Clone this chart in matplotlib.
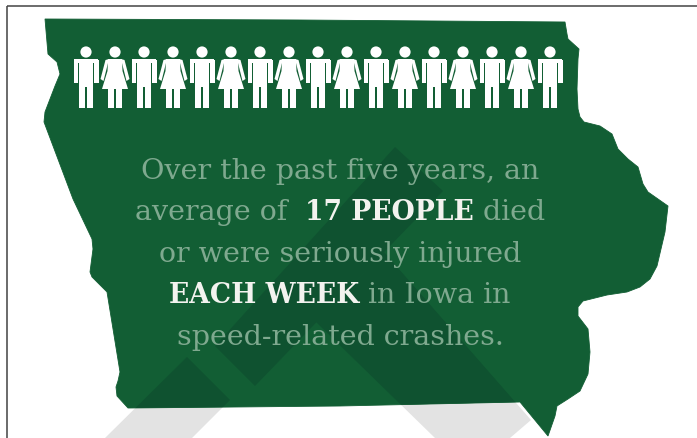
#!/usr/bin/env python3
"""Iowa speed-related crashes graphic"""

import numpy as np
import matplotlib
matplotlib.use("Agg")
import matplotlib.pyplot as plt
from matplotlib.patches import Polygon, Circle, Rectangle

# outline of the state, in picture pixels
state_x = [45, 300, 565, 567, 568, 579, 578, 577, 578, 580, 584, 600, 612, 618, 628, 638, 643, 648, 668,
           665, 657, 650, 640, 627, 607, 583, 578, 578, 588, 590, 588, 580, 568, 557, 555, 548, 520,
           340, 130, 128, 117, 116, 118, 120, 107, 92, 90, 93, 92, 73, 44, 45, 55, 60, 57, 48]
state_y = [20, 21, 23, 35, 40, 50, 60, 90, 110, 118, 123, 127, 135, 150, 160, 168, 185, 193, 207,
           233, 267, 280, 288, 293, 296, 302, 308, 317, 330, 353, 375, 392, 400, 407, 417, 437, 403,
           407, 409, 409, 397, 388, 382, 373, 293, 278, 273, 250, 240, 200, 123, 113, 87, 75, 63, 55]

# chevrons behind and over the state
chevron_left_x = [187, 230, 192, 105]
chevron_left_y = [358, 401, 439, 439]
chevron_top_x = [395, 443, 255, 215]
chevron_top_y = [148, 192, 387, 347]
chevron_right_x = [384, 531, 510, 435, 316]
chevron_right_y = [253, 421, 439, 439, 323]

people = ["m", "f", "m", "f", "m", "f", "m", "f", "m", "f", "m", "f", "m", "f", "m", "f", "m"]

# (text, bold) runs for each line
text_lines = [
    [("Over the past five years, an", False)],
    [("average of  ", False), ("17 PEOPLE", True), (" died", False)],
    [("or were seriously injured", False)],
    [("EACH WEEK", True), (" in Iowa in", False)],
    [("speed-related crashes.", False)],
]
line_baselines = [179, 220, 262, 303, 345]

GREEN = "#125e34"
DARK_GREEN = "#0f5230"
GREY = "#e3e3e3"
SOFT_TEXT = "#7fa98f"
BOLD_TEXT = "#f3f3ef"


def draw_man(ax, cx):
    white = dict(color="white", lw=0, zorder=6)
    ax.add_patch(Circle((cx, 53), 5.6, **white))
    ax.add_patch(Rectangle((cx - 12, 60), 24, 4, **white))
    ax.add_patch(Rectangle((cx - 12.5, 61), 4.6, 23, **white))
    ax.add_patch(Rectangle((cx + 7.9, 61), 4.6, 23, **white))
    ax.add_patch(Rectangle((cx - 6.8, 60), 13.6, 28, **white))
    ax.add_patch(Rectangle((cx - 6.8, 88), 6, 21, **white))
    ax.add_patch(Rectangle((cx + 0.8, 88), 6, 21, **white))


def draw_woman(ax, cx):
    white = dict(color="white", lw=0, zorder=6)
    ax.add_patch(Circle((cx, 53), 5.6, **white))
    ax.add_patch(Polygon([(cx - 7, 60), (cx + 7, 60), (cx + 7.5, 72), (cx + 13, 90), (cx - 13, 90), (cx - 7.5, 72)],
                         closed=True, **white))
    for s in (-1, 1):
        ax.add_patch(Polygon([(cx + s * 6, 60), (cx + s * 9.5, 61), (cx + s * 14.5, 80), (cx + s * 11.5, 82), (cx + s * 8, 68)],
                             closed=True, **white))
        ax.add_patch(Rectangle((cx + s * 4 - 2.6, 90), 5.2, 19, **white))


def draw_text_line(ax, fig, runs, baseline, center=340):
    renderer = fig.canvas.get_renderer()
    items = []
    for txt, bold in runs:
        t = ax.text(0, baseline, txt, fontsize=19.2 if bold else 20.5, family="DejaVu Serif", va="baseline", ha="left",
                    fontweight="bold" if bold else "normal", color=BOLD_TEXT if bold else SOFT_TEXT, zorder=6)
        items.append((t, t.get_window_extent(renderer).width))
    total = sum(w for _, w in items)
    x = center - total / 2
    for t, w in items:
        t.set_x(x)
        x += w


def main():
    fig = plt.figure(figsize=(6.97, 4.39), dpi=100)
    ax = fig.add_axes([0, 0, 1, 1])
    ax.set_xlim(0, 697)
    ax.set_ylim(439, 0)
    ax.axis("off")

    ax.plot([7, 7], [6.5, 439], color="#6a6a6a", lw=1.4, zorder=1, solid_capstyle="butt")
    ax.plot([7, 697], [6.5, 6.5], color="#444444", lw=1.1, zorder=1, solid_capstyle="butt")

    # grey part of the chevrons lies under the state
    for xs, ys in [(chevron_left_x, chevron_left_y), (chevron_right_x, chevron_right_y)]:
        ax.add_patch(Polygon(np.column_stack([xs, ys]), closed=True, color=GREY, lw=0, zorder=2))

    state = Polygon(np.column_stack([state_x, state_y]), closed=True, facecolor=GREEN, edgecolor=GREEN, lw=0.6, zorder=3)
    ax.add_patch(state)

    # same chevrons show darker through the state
    for xs, ys in [(chevron_left_x, chevron_left_y), (chevron_top_x, chevron_top_y), (chevron_right_x, chevron_right_y)]:
        dark = Polygon(np.column_stack([xs, ys]), closed=True, color=DARK_GREEN, lw=0, zorder=4)
        ax.add_patch(dark)
        dark.set_clip_path(state)

    positions = np.linspace(86, 550, len(people))
    for cx, kind in zip(positions, people):
        if kind == "m":
            draw_man(ax, cx)
        else:
            draw_woman(ax, cx)

    for runs, baseline in zip(text_lines, line_baselines):
        draw_text_line(ax, fig, runs, baseline)

    fig.savefig("out.png", dpi=100)


if __name__ == "__main__":
    main()
